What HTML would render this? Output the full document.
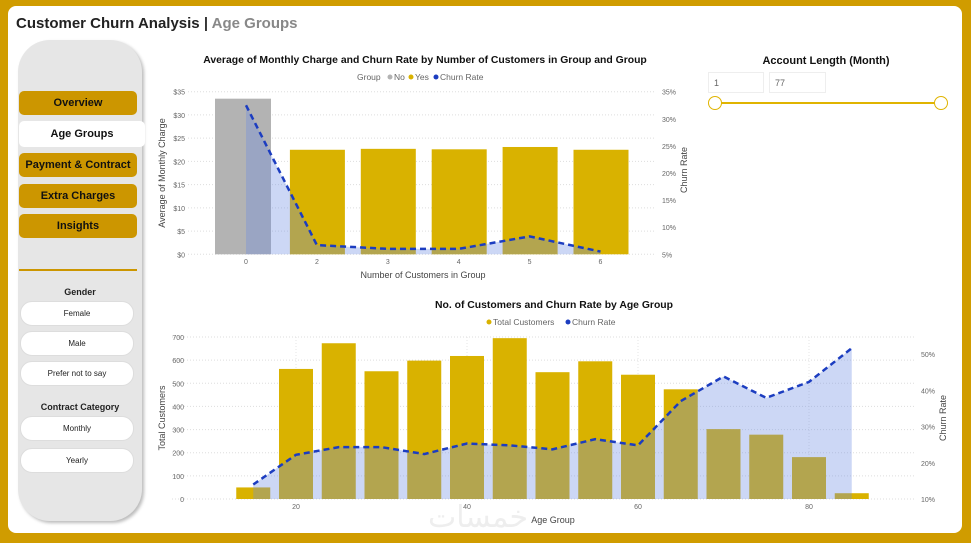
<!DOCTYPE html>
<html><head><meta charset="utf-8">
<style>
*{box-sizing:border-box;margin:0;padding:0}
body{width:971px;height:543px;background:#D09C00;font-family:"Liberation Sans",sans-serif;position:relative;overflow:hidden}
#panel{position:absolute;left:8px;top:6px;width:954px;height:527px;background:#fff;border-radius:8px}
#title{position:absolute;left:16px;top:15px;font-size:15px;font-weight:bold;color:#222}
#title span{color:#888}
#side{position:absolute;left:18px;top:40px;width:124px;height:481px;background:#E6E6E6;border-radius:32px;box-shadow:2px 2px 3px #bbb}
.btn{position:absolute;left:19px;width:118px;height:24px;background:#CC9600;border-radius:5px;font-size:11px;font-weight:bold;color:#111;text-align:center;line-height:24px}
.pill{position:absolute;left:20px;width:114px;height:25px;background:#fff;border:1px solid #ddd;border-radius:12px;font-size:8px;text-align:center;line-height:24px;color:#222}
.lbl{position:absolute;left:18px;width:124px;text-align:center;font-size:9px;font-weight:bold;color:#222}
.inp{position:absolute;top:72px;height:21px;border:1px solid #eee;font-size:9px;color:#666;padding:5px}
svg{position:absolute;left:0;top:0}
</style></head><body>
<div id="panel"></div>
<div id="title">Customer Churn Analysis <b style="color:#333">|</b> <span>Age Groups</span></div>
<div id="side"></div>
<div class="btn" style="top:91px">Overview</div>
<div class="btn" style="top:121px;width:126px;height:26px;background:#fff;line-height:26px">Age Groups</div>
<div class="btn" style="top:153px">Payment &amp; Contract</div>
<div class="btn" style="top:184px">Extra Charges</div>
<div class="btn" style="top:214px">Insights</div>
<div style="position:absolute;left:19px;top:269px;width:118px;height:2px;background:#CC9600"></div>
<div class="lbl" style="top:287px">Gender</div>
<div class="pill" style="top:301px">Female</div>
<div class="pill" style="top:331px">Male</div>
<div class="pill" style="top:361px">Prefer not to say</div>
<div class="lbl" style="top:402px">Contract Category</div>
<div class="pill" style="top:416px">Monthly</div>
<div class="pill" style="top:448px">Yearly</div>
<div style="position:absolute;left:708px;top:55px;width:236px;text-align:center;font-size:11px;font-weight:bold;color:#111">Account Length (Month)</div>
<div class="inp" style="left:708px;width:56px">1</div>
<div class="inp" style="left:769px;width:57px">77</div>
<div style="position:absolute;left:714px;top:102px;width:228px;height:2px;background:#E0B400"></div>
<div style="position:absolute;left:708px;top:96px;width:14px;height:14px;border:1.5px solid #E0B400;border-radius:50%;background:#fff"></div>
<div style="position:absolute;left:934px;top:96px;width:14px;height:14px;border:1.5px solid #E0B400;border-radius:50%;background:#fff"></div>
<div style="position:absolute;left:428px;top:500px;font-size:30px;color:#eee;font-family:'DejaVu Sans',sans-serif">خمسات</div>
<svg id="c" width="971" height="543"></svg>
<script>
// Top chart data
const topCats=['0','2','3','4','5','6'];
const topNo=[33.5,null,null,null,null,null];
const topYes=[null,22.5,22.7,22.6,23.1,22.5];
const topChurn=[32.5,6.7,6.0,6.0,8.3,5.5];
const topYTicks=[0,5,10,15,20,25,30,35];
const topY2Ticks=[5,10,15,20,25,30,35];
// Bottom chart data
const ages=[15,20,25,30,35,40,45,50,55,60,65,70,75,80,85];
const totals=[50,562,673,552,598,618,695,548,595,537,474,302,278,181,25];
const botChurn=[14,22.2,24.3,24.3,22.4,25.3,24.8,23.7,26.5,24.8,37,43.8,37.9,42.3,51.6];
const botYTicks=[0,100,200,300,400,500,600,700];
const botY2Ticks=[10,20,30,40,50];
const botXTicks=[20,40,60,80];

const NS='http://www.w3.org/2000/svg',svg=document.getElementById('c');
function mk(t,a,txt){const e=document.createElementNS(NS,t);for(const k in a)e.setAttribute(k,a[k]);if(txt!=null)e.textContent=txt;svg.appendChild(e);return e;}
const GOLD='#D9B200',AREA='rgba(110,140,225,0.35)',LINE='#1C3DC0';

// ---- top chart
const tx=i=>246+i*70.9, ty=v=>254.3-v*(162.6/35), ty2=v=>254.3-(v-5)*(162.6/30);
topYTicks.forEach(v=>{let g=mk('line',{x1:188,x2:655,y1:ty(v),y2:ty(v),stroke:'#ddd','stroke-dasharray':'1 2'});
 let t=mk('text',{x:185,y:ty(v)+3,'text-anchor':'end','font-size':7,fill:'#666'},'$'+v);});
topY2Ticks.forEach(v=>{let t=mk('text',{x:662,y:ty2(v)+3,'font-size':7,fill:'#666'},v+'%');});
topCats.forEach((c,i)=>{
 if(topNo[i]!=null){let r=mk('rect',{x:tx(i)-31,y:ty(topNo[i]),width:56,height:254.3-ty(topNo[i]),fill:'#B3B3B3'});}
 if(topYes[i]!=null){let r=mk('rect',{x:tx(i)-27,y:ty(topYes[i]),width:55,height:254.3-ty(topYes[i]),fill:GOLD});}
 let t=mk('text',{x:tx(i),y:264,'text-anchor':'middle','font-size':7,fill:'#666'},c);
});
let tp=topChurn.map((v,i)=>tx(i)+','+ty2(v)).join(' ');
let ta=mk('polygon',{points:tx(0)+',254.3 '+tp+' '+tx(topChurn.length-1)+',254.3',fill:AREA});
let tl=mk('polyline',{points:tp,fill:'none',stroke:LINE,'stroke-width':2.5,'stroke-dasharray':'6 4'});
[['Average of Monthly Charge and Churn Rate by Number of Customers in Group and Group',425,63,10.4,'bold','#111','middle'],['Number of Customers in Group',423,278,9,'normal','#444','middle']].forEach(a=>{let t=mk('text',{x:a[1],y:a[2],'font-size':a[3],'font-weight':a[4],fill:a[5],'text-anchor':a[6]},a[0]);});
let yl=mk('text',{transform:'translate(165,173) rotate(-90)','text-anchor':'middle','font-size':9,fill:'#444'},'Average of Monthly Charge');
let yr=mk('text',{transform:'translate(687,170) rotate(-90)','text-anchor':'middle','font-size':9,fill:'#444'},'Churn Rate');
let lg=mk('text',{x:357,y:80,'font-size':8.5,fill:'#666'},'Group');
[['No','#B3B3B3',390],['Yes',GOLD,411],['Churn Rate',LINE,436]].forEach(a=>{let c=mk('circle',{cx:a[2],cy:77,r:2.5,fill:a[1]});let t=mk('text',{x:a[2]+4,y:80,'font-size':8.5,fill:'#666'},a[0]);});

// ---- bottom chart
const bx=a=>296+(a-20)*8.55, by=v=>499-v*(162/700), by2=v=>499-(v-10)*(145/40);
botYTicks.forEach(v=>{let g=mk('line',{x1:172,x2:915,y1:by(v),y2:by(v),stroke:'#ddd','stroke-dasharray':'1 2'});
 let t=mk('text',{x:184,y:by(v)+3,'text-anchor':'end','font-size':7,fill:'#666'},v);});
botXTicks.forEach(v=>{let g=mk('line',{x1:bx(v),x2:bx(v),y1:337,y2:499,stroke:'#e4e4e4','stroke-dasharray':'1 2'});
 let t=mk('text',{x:bx(v),y:509,'text-anchor':'middle','font-size':7,fill:'#666'},v);});
botY2Ticks.forEach(v=>{let t=mk('text',{x:921,y:by2(v)+3,'font-size':7,fill:'#666'},v+'%');});
ages.forEach((a,i)=>{let r=mk('rect',{x:bx(a)-17,y:by(totals[i]),width:34,height:499-by(totals[i]),fill:GOLD});});
let bp=botChurn.map((v,i)=>bx(ages[i])+','+by2(v)).join(' ');
let ba=mk('polygon',{points:bx(ages[0])+',499 '+bp+' '+bx(ages[ages.length-1])+',499',fill:AREA});
let bl=mk('polyline',{points:bp,fill:'none',stroke:LINE,'stroke-width':2.5,'stroke-dasharray':'6 4'});
let bt=mk('text',{x:554,y:308,'text-anchor':'middle','font-size':10.4,'font-weight':'bold',fill:'#111'},'No. of Customers and Churn Rate by Age Group');
let bxt=mk('text',{x:553,y:523,'text-anchor':'middle','font-size':9,fill:'#444'},'Age Group');
let byl=mk('text',{transform:'translate(165,418) rotate(-90)','text-anchor':'middle','font-size':9,fill:'#444'},'Total Customers');
let byr=mk('text',{transform:'translate(946,418) rotate(-90)','text-anchor':'middle','font-size':9,fill:'#444'},'Churn Rate');
[['Total Customers',GOLD,489],['Churn Rate',LINE,568]].forEach(a=>{let c=mk('circle',{cx:a[2],cy:322,r:2.5,fill:a[1]});let t=mk('text',{x:a[2]+4,y:325,'font-size':8.5,fill:'#666'},a[0]);});
</script>
</body></html>
